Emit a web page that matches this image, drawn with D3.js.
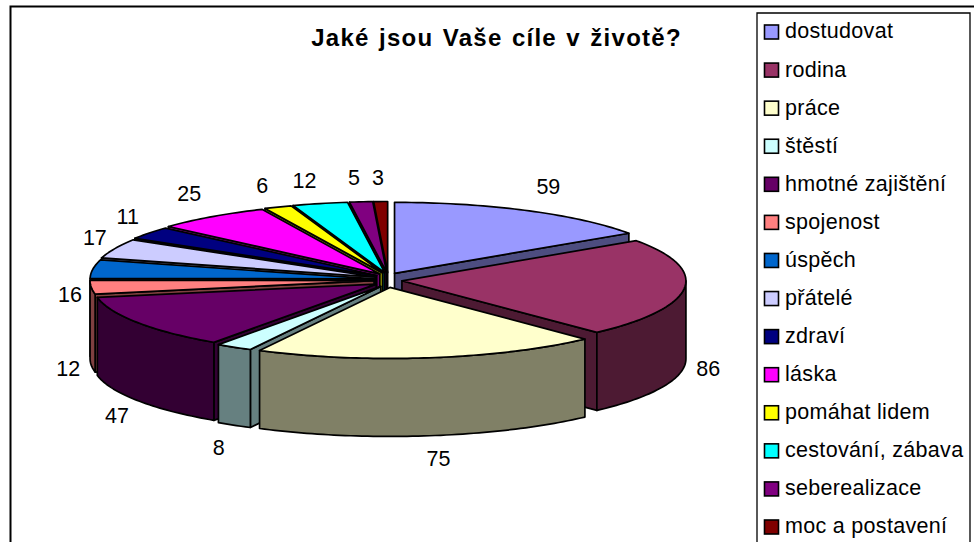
<!DOCTYPE html>
<html lang="cs">
<head>
<meta charset="utf-8">
<title>Jaké jsou Vaše cíle v životě?</title>
<script src="https://cdn.jsdelivr.net/npm/d3@7"></script>
<style>
  html, body { margin: 0; padding: 0; background: #fff; overflow: hidden; }
  svg { display: block; font-family: "Liberation Sans", Arial, sans-serif; }
</style>
</head>
<body>
<svg id="chart" width="974" height="542"></svg>
<script>
const categories = ["dostudovat", "rodina", "práce", "štěstí", "hmotné zajištění", "spojenost", "úspěch",
  "přátelé", "zdraví", "láska", "pomáhat lidem", "cestování, zábava", "seberealizace", "moc a postavení"];
const answers = [59, 86, 75, 8, 47, 12, 16, 17, 11, 25, 6, 12, 5, 3];
const palette = ["#9999FF", "#993366", "#FFFFCC", "#CCFFFF", "#660066", "#FF8080", "#0066CC",
  "#CCCCFF", "#000080", "#FF00FF", "#FFFF00", "#00FFFF", "#800080", "#800000"];
const chartTitle = "Jaké jsou Vaše cíle v životě?";

// Tilted-disc geometry
const centre = { x: 388, y: 280 };
const radius = { x: 284, y: 71 };
const explode = { x: 14, y: 7.5 };
const depth = 78;
const labelGap = 24;
// Per-slice label shifts where a label has to step aside from its neighbours
const labelShift = {
  0: [5, -2], 1: [0, -6], 2: [0, -1], 3: [2, 0], 4: [1, -3], 5: [1, -4], 6: [1, 34],
  7: [3, 4], 8: [0, 2], 9: [-4, -2], 10: [-1, 1], 11: [-4, 0], 12: [0, -1], 13: [1, 0]
};

const svg = d3.select("#chart");

// Outer frame: only the top and left rules fall inside the canvas
svg.append("path").attr("d", "M10.5,542V6.5H974").attr("fill", "none").attr("stroke", "#000").attr("stroke-width", 2);

svg.append("text").attr("x", 496.5).attr("y", 46).attr("text-anchor", "middle")
  .attr("font-size", 24).attr("font-weight", "bold")
  .style("letter-spacing", "1.25px").style("word-spacing", "1.5px").text(chartTitle);

const slices = d3.pie().sort(null).startAngle(0).endAngle(2 * Math.PI)(answers);

const rimX = d3.scaleLinear().domain([-1, 1]).range([-radius.x, radius.x]);
const rimY = d3.scaleLinear().domain([-1, 1]).range([-radius.y, radius.y]);
const line = d3.line();

function toPoint(s, a, drop = 0) {
  return [s.cx + rimX(Math.sin(a)), s.cy + rimY(-Math.cos(a)) + drop];
}
function arcPoints(s, a0, a1, drop = 0) {
  const n = Math.max(2, Math.ceil((a1 - a0) / 0.02));
  return d3.range(n + 1).map(i => toPoint(s, a0 + (a1 - a0) * i / n, drop));
}

slices.forEach(s => {
  s.mid = (s.startAngle + s.endAngle) / 2;
  s.cx = centre.x + explode.x * Math.sin(s.mid);
  s.cy = centre.y - explode.y * Math.cos(s.mid);
  s.top = palette[s.index];
  const c = d3.rgb(s.top);
  s.side = d3.rgb(c.r / 2, c.g / 2, c.b / 2).formatHex();
});

// Paint from the back of the disc towards the viewer
const order = slices.slice().sort((a, b) => Math.cos(b.mid) - Math.cos(a.mid));
const pieGroup = svg.append("g").attr("stroke", "#000").attr("stroke-width", 1.7).attr("stroke-linejoin", "round");

order.forEach(s => {
  const apex = [s.cx, s.cy];
  const apexLow = [s.cx, s.cy + depth];
  // Cut faces that turn towards the viewer
  [[s.startAngle, Math.sin(s.startAngle) < -1e-6], [s.endAngle, Math.sin(s.endAngle) > 1e-6]].forEach(([a, visible]) => {
    if (!visible) return;
    pieGroup.append("path").attr("fill", s.side)
      .attr("d", line([apex, toPoint(s, a), toPoint(s, a, depth), apexLow]) + "Z");
  });
  // Curved outer wall on the near half of the rim
  const a0 = Math.max(s.startAngle, Math.PI / 2);
  const a1 = Math.min(s.endAngle, 3 * Math.PI / 2);
  if (a1 > a0) {
    const pts = arcPoints(s, a0, a1).concat(arcPoints(s, a0, a1, depth).reverse());
    pieGroup.append("path").attr("fill", s.side).attr("d", line(pts) + "Z");
  }
  // Top face
  pieGroup.append("path").attr("fill", s.top)
    .attr("d", line([apex].concat(arcPoints(s, s.startAngle, s.endAngle))) + "Z");
});

// Value labels sit just outside the rim, lowered by the wall on the near half
svg.append("g").attr("font-size", 21.5).attr("text-anchor", "middle").selectAll("text")
  .data(slices).join("text")
  .attr("x", s => {
    const v = Math.sin(s.mid);
    return toPoint(s, s.mid)[0] + labelGap * Math.sign(v) * Math.sqrt(Math.abs(v)) + labelShift[s.index][0];
  })
  .attr("y", s => {
    const v = Math.cos(s.mid);
    const drop = v < 0 ? depth : 0;
    return toPoint(s, s.mid, drop)[1] - labelGap * Math.sign(v) * Math.sqrt(Math.abs(v)) + labelShift[s.index][1];
  })
  .attr("dy", "0.36em")
  .text(s => s.value);

// Legend panel, clipped by the bottom of the canvas
svg.append("path").attr("d", "M757,542V13H970V542").attr("fill", "#fff").attr("stroke", "#000").attr("stroke-width", 1.3);

const rowY = d3.scalePoint().domain(categories).range([32, 527]);
const rows = svg.append("g").selectAll("g").data(categories).join("g")
  .attr("transform", d => `translate(764,${rowY(d)})`);
rows.append("rect").attr("x", 0.5).attr("y", -7).attr("width", 14).attr("height", 14)
  .attr("fill", (d, i) => palette[i]).attr("stroke", "#000").attr("stroke-width", 1.6);
rows.append("text").attr("x", 21).attr("dy", "0.3em").attr("font-size", 21.5)
  .style("letter-spacing", "0.3px").text(d => d);
</script>
</body>
</html>
